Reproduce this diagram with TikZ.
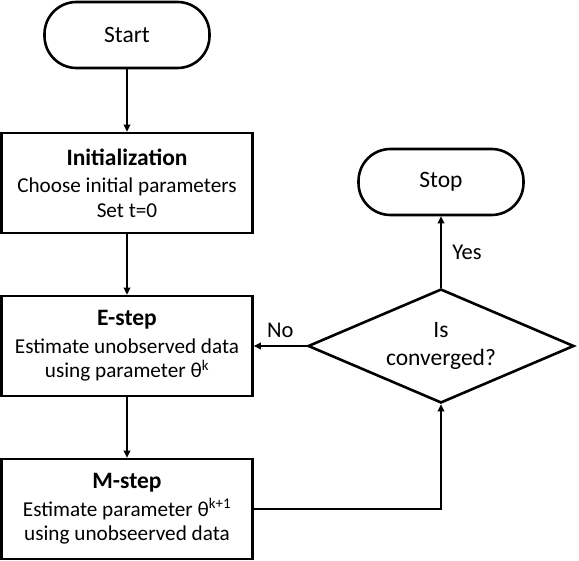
\documentclass[tikz,border=0pt]{standalone}
\usepackage{fontspec}
\setmainfont{Carlito}
\usetikzlibrary{arrows.meta,positioning,shapes.geometric}
\newcommand{\steptitle}[1]{{\bfseries\fontsize{23.5}{28}\selectfont #1}}

\begin{document}
\begin{tikzpicture}[x=1pt,y=-1pt,line width=2pt,
  box/.style={draw,line width=2.6pt,minimum width=251pt,minimum height=100pt,inner sep=0pt,align=center,font=\fontsize{21.2}{24.5}\selectfont},
  term/.style={draw,line width=2.6pt,rounded corners=32pt,minimum width=165pt,minimum height=66pt,inner sep=0pt,font=\fontsize{23.5}{28}\selectfont},
  flow/.style={-{Triangle[length=7pt,width=6.5pt]}},
  lab/.style={font=\fontsize{22.5}{27}\selectfont}]
\useasboundingbox (0,0) rectangle (579,561);
\node[term] (start) at (127,35){Start};
\node[box] (init) at (127,183){\steptitle{Initialization}\\[3pt] Choose initial parameters\\ Set t=0};
\node[box] (estep) at (127,346){\steptitle{E-step}\\[3pt] Estimate unobserved data\\ using parameter θ\textsuperscript{k}};
\node[box] (mstep) at (127,509){\steptitle{M-step}\\[3pt] Estimate parameter θ\textsuperscript{k+1}\\ using unobseerved data};
\node[term] (stop) at (441,182){Stop};
\node[draw,diamond,line width=2.6pt,aspect=2.3,minimum width=266pt,minimum height=114pt,inner sep=0pt,align=center,font=\fontsize{23.5}{28}\selectfont] (conv) at (441,346){Is\\ converged?};
\draw[flow] (start) -- (init);
\draw[flow] (init) -- (estep);
\draw[flow] (estep) -- (mstep);
\draw[flow] (mstep.east) -| (conv.south);
\draw[flow] (conv.west) -- (estep.east) node[midway,above=4pt,lab]{No};
\draw[flow] (conv.north) -- (stop.south) node[midway,right=7pt,lab]{Yes};
\end{tikzpicture}
\end{document}
